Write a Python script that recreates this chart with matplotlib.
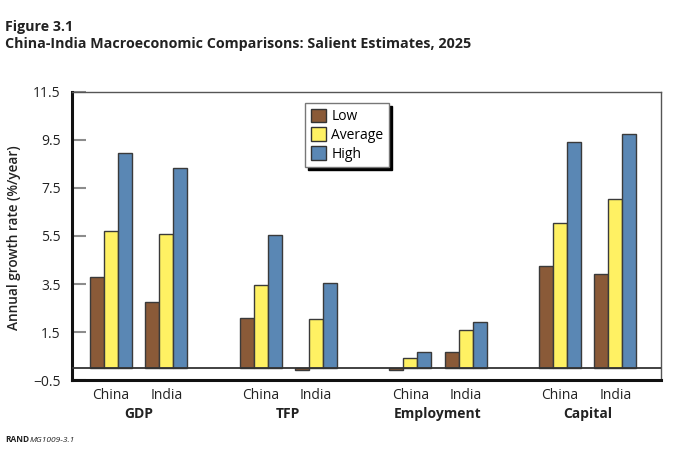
import matplotlib
matplotlib.use("Agg")
import matplotlib.pyplot as plt
import matplotlib.transforms as mtransforms
from matplotlib.patches import Patch
import numpy as np

plt.rcParams['font.family'] = ['Open Sans', 'DejaVu Sans']

groups = ["GDP", "TFP", "Employment", "Capital"]
countries = ["China", "India"]
series = ["Low", "Average", "High"]
# values per group: [China, India]
low = {"GDP": [3.8, 2.75], "TFP": [2.1, -0.1], "Employment": [-0.1, 0.65], "Capital": [4.25, 3.9]}
average = {"GDP": [5.7, 5.6], "TFP": [3.45, 2.05], "Employment": [0.4, 1.6], "Capital": [6.05, 7.05]}
high = {"GDP": [8.95, 8.35], "TFP": [5.55, 3.55], "Employment": [0.65, 1.9], "Capital": [9.4, 9.75]}
yticks = [-0.5, 1.5, 3.5, 5.5, 7.5, 9.5, 11.5]

colors = {"Low": "#8a5a38", "Average": "#fff163", "High": "#5a87b4"}
data = {"Low": low, "Average": average, "High": high}

fig = plt.figure(figsize=(6.81, 4.54), dpi=100)
W, H = 681, 454
ax = fig.add_axes([72 / W, 1 - 380 / H, (661 - 72) / W, (380 - 92) / H])

group_gap = 2.707
bw = 0.253
centers = []
labels = []
for gi, g in enumerate(groups):
    for ci, c in enumerate(countries):
        centers.append(gi * group_gap + ci)
        labels.append(c)
centers = np.array(centers)

for si, s in enumerate(series):
    vals = []
    for g in groups:
        vals.extend(data[s][g])
    ax.bar(centers + (si - 1) * bw, vals, width=bw, color=colors[s],
           edgecolor="#3a3a3a", linewidth=1.0, zorder=3)

ax.axhline(0, color="#333333", linewidth=1.3, zorder=4)
ax.set_xlim(-0.705, centers[-1] + 0.826)
ax.set_ylim(-0.5, 11.5)
ax.set_yticks(yticks)
ax.set_yticklabels([("\u2212" + f"{abs(v):.1f}") if v < 0 else f"{v:.1f}" for v in yticks], fontsize=10, color="#222222")
ax.tick_params(axis='y', direction='in', length=10, width=1.5, color="#8c8c8c", pad=8)
ax.set_xticks(centers)
ax.set_xticklabels(labels, fontsize=10, color="#222222")
ax.tick_params(axis='x', length=0, pad=6)

for sp in ["left", "bottom"]:
    ax.spines[sp].set_linewidth(2.2)
    ax.spines[sp].set_color("#111111")
for sp in ["top", "right"]:
    ax.spines[sp].set_linewidth(1.0)
    ax.spines[sp].set_color("#555555")

trans = mtransforms.blended_transform_factory(ax.transData, fig.transFigure)
for gi, g in enumerate(groups):
    ax.text(gi * group_gap + 0.5, 1 - 414 / H, g, transform=trans, ha="center", va="center",
            fontsize=10, fontweight="bold", color="#222222")

fig.text(14 / W, 1 - 238 / H, "Annual growth rate (%/year)", rotation=90, ha="center", va="center",
         fontsize=9.8, fontweight="semibold", color="#222222")

handles = [Patch(facecolor=colors[s], edgecolor="#333333", linewidth=1.0) for s in series]
leg = ax.legend(handles, series, loc="upper left", bbox_to_anchor=((305 - 72) / (661 - 72), 1 - (103 - 92) / (380 - 92)),
                frameon=True, fancybox=False, fontsize=10, handlelength=1.1, handleheight=1.1,
                handletextpad=0.4, labelspacing=0.25, borderpad=0.4, borderaxespad=0,
                shadow={"color": "black", "alpha": 1.0})
leg.get_frame().set_edgecolor("#777777")
leg.get_frame().set_linewidth(1.0)
leg.set_zorder(5)

fig.text(5 / W, 1 - 27 / H, "Figure 3.1", ha="left", va="center", fontsize=10.3, fontweight="bold", color="#222222")
fig.text(5 / W, 1 - 44 / H, "China-India Macroeconomic Comparisons: Salient Estimates, 2025", ha="left", va="center",
         fontsize=10.3, fontweight="bold", color="#222222")
fig.text(5 / W, 1 - 440 / H, "RAND", ha="left", va="center", fontsize=6, fontweight="bold", color="#222222")
fig.text(30 / W, 1 - 440 / H, "MG1009-3.1", ha="left", va="center", fontsize=6, style="italic", color="#222222")

fig.savefig("out.png", dpi=100)
